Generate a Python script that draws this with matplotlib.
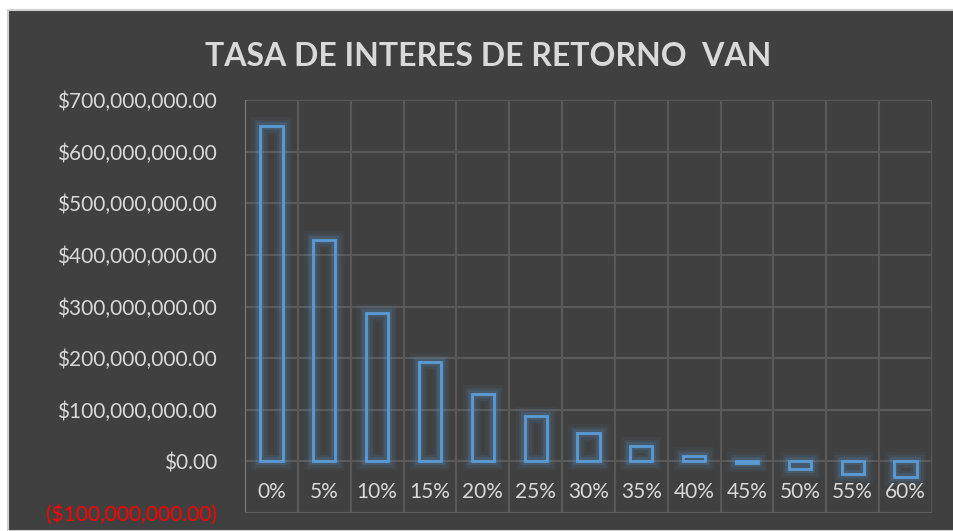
import matplotlib.pyplot as plt
import matplotlib.patheffects as pe
import numpy as np

# Datos
tasas = ['0%', '5%', '10%', '15%', '20%', '25%', '30%', '35%', '40%', '45%', '50%', '55%', '60%']
van = [650e6, 428e6, 288e6, 193e6, 131e6, 87e6, 54e6, 29e6, 11e6, -3e6, -15e6, -24e6, -31e6]
y_ticks = [-100e6, 0, 100e6, 200e6, 300e6, 400e6, 500e6, 600e6, 700e6]

fondo = '#404040'
rejilla = '#595959'
texto = '#d9d9d9'
azul = '#5b9bd5'

plt.rcParams['font.family'] = ['Lato', 'DejaVu Sans']

fig = plt.figure(figsize=(9.54, 5.31), dpi=100, facecolor='white')
# fondo oscuro del grafico (borde blanco arriba e izquierda)
fig.patches.append(plt.Rectangle((8 / 954, 0), 1, 1 - 10 / 531, transform=fig.transFigure,
                                 facecolor=fondo, edgecolor='#d0d0d0', linewidth=1.5, zorder=-10))

ax = fig.add_axes([245 / 954, 18 / 531, 687 / 954, 413 / 531])
ax.set_facecolor(fondo)

x = np.arange(len(tasas))
barras = ax.bar(x, van, width=0.42, facecolor='none', edgecolor=azul, linewidth=2.0, zorder=3)
for b in barras:
    b.set_path_effects([
        pe.Stroke(linewidth=13, foreground=azul, alpha=0.06),
        pe.Stroke(linewidth=9, foreground=azul, alpha=0.10),
        pe.Stroke(linewidth=5.5, foreground=azul, alpha=0.18),
        pe.Normal(),
    ])

ax.set_xlim(-0.5, len(tasas) - 0.5)
ax.set_ylim(-100e6, 700e6)

for yv in y_ticks:
    ax.axhline(yv, color=rejilla, linewidth=1.5, zorder=1)
for xv in np.arange(-0.5, len(tasas), 1.0):
    ax.axvline(xv, color=rejilla, linewidth=1.5, zorder=1)
ax.axvline(-0.5, color='#7f7f7f', linewidth=1.5, zorder=2)
ax.axhline(-100e6, color='#5f5f5f', linewidth=1.5, zorder=2)

for s in ax.spines.values():
    s.set_visible(False)

ax.set_xticks([])
ax.set_yticks(y_ticks)
etiquetas = []
for v in y_ticks:
    if v < 0:
        etiquetas.append('(${:,.2f})'.format(-v))
    else:
        etiquetas.append('${:,.2f}'.format(v))
ax.set_yticklabels(etiquetas, fontsize=15, color=texto)
ax.tick_params(axis='y', length=0, pad=20)
ax.get_yticklabels()[0].set_color('#ff0000')

for i, t in enumerate(tasas):
    ax.text(i, -60e6, t, ha='center', va='center', fontsize=15, color=texto)

fig.text(488 / 954, 1 - 56 / 531, 'TASA DE INTERES DE RETORNO  VAN', ha='center', va='center',
         fontsize=23, fontweight='bold', color=texto)

fig.savefig('out.png', dpi=100, facecolor='white')
